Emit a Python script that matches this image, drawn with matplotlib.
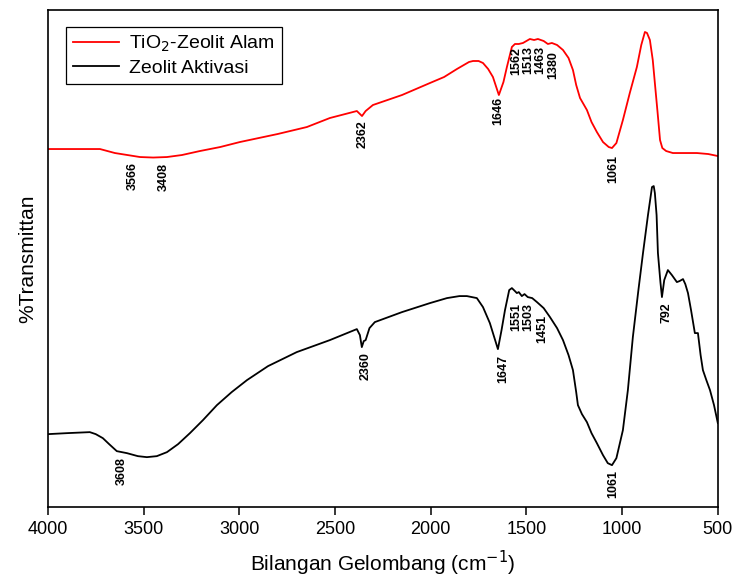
import matplotlib
matplotlib.use("Agg")
import matplotlib.pyplot as plt
import numpy as np

plt.rcParams['font.family'] = ['Liberation Sans', 'DejaVu Sans']

# ---- spectra (wavenumber, arbitrary %T units)
wn_tio2 = [4000, 3900, 3728, 3650, 3519, 3450, 3378, 3300, 3206, 3100, 2997, 2800, 2647, 2527,
           2386, 2359, 2340, 2302, 2150, 2004, 1930, 1863, 1800, 1779, 1750, 1727, 1700, 1675,
           1644, 1620, 1602, 1576, 1560, 1540, 1518, 1500, 1482, 1460, 1440, 1410, 1388, 1367,
           1340, 1309, 1280, 1257, 1240, 1220, 1184, 1160, 1132, 1100, 1070, 1053, 1030, 996,
           960, 923, 900, 881, 870, 855, 840, 829, 815, 802, 790, 770, 735, 700, 609, 550, 500]
t_tio2 = [358, 358, 358, 354, 350, 349.5, 350, 352, 356, 360, 365, 373, 380, 389,
          396, 391, 396, 402, 412, 424, 430, 438, 445, 446, 446, 444, 438, 430,
          412, 425, 440, 460, 463, 463, 464, 466, 468, 467, 468, 466, 463, 464,
          462, 457, 449, 437, 422, 409, 397, 385, 375, 365, 360, 359, 364, 387,
          414, 440, 462, 475, 474, 467, 447, 424, 395, 367, 359, 356, 354, 354, 354, 353, 351]

wn_akt = [4000, 3900, 3781, 3750, 3713, 3680, 3640, 3587, 3530, 3483, 3431, 3378, 3320, 3258,
          3190, 3117, 3040, 2960, 2850, 2700, 2527, 2386, 2370, 2360, 2350, 2340, 2320, 2292,
          2150, 2004, 1915, 1850, 1811, 1759, 1727, 1691, 1649, 1630, 1612, 1590, 1576, 1560,
          1550, 1540, 1524, 1510, 1493, 1470, 1445, 1410, 1377, 1340, 1309, 1280, 1257, 1240,
          1231, 1210, 1184, 1160, 1132, 1100, 1075, 1053, 1030, 996, 970, 944, 915, 891, 865,
          844, 835, 829, 820, 813, 800, 792, 780, 761, 740, 714, 700, 682, 670, 656, 640, 620,
          604, 590, 578, 560, 541, 520, 500]
t_akt = [73, 74, 75, 73, 69, 63, 56, 54, 51, 50, 51, 55, 63, 74,
         87, 102, 115, 127, 141, 155, 167, 178, 172, 160, 166, 167, 179, 185,
         195, 204, 209, 211, 211, 209, 200, 184, 158, 177, 197, 217, 219, 216,
         214, 215, 211, 213, 210, 209, 205, 199, 190, 179, 167, 152, 137, 115,
         102, 93, 85, 74, 64, 52, 44, 42, 49, 77, 117, 170, 217, 254, 292,
         320, 321, 314, 292, 254, 225, 210, 227, 237, 232, 225, 226, 228, 223, 214, 197, 174,
         174, 152, 137, 127, 117, 102, 84]

# ---- peak labels
lab_tio2 = ['3566', '3408', '2362', '1646', '1562', '1513', '1463', '1380', '1061']
lab_tio2_x = [3556, 3394, 2354, 1649, 1552, 1492, 1429, 1362, 1048]
lab_tio2_y = [345, 344, 387, 410, 460, 461, 461, 456, 352]

lab_akt = ['3608', '2360', '1647', '1551', '1503', '1451', '792', '1061']
lab_akt_x = [3613, 2339, 1623, 1551, 1492, 1419, 766, 1048]
lab_akt_y = [50, 155, 152, 204, 204, 192, 205, 37]

fig = plt.figure(figsize=(7.37, 5.87), dpi=100)
ax = fig.add_axes([0.065, 0.136, 0.909, 0.847])

ax.plot(wn_tio2, t_tio2, color='red', lw=1.3, label='TiO$_2$-Zeolit Alam')
ax.plot(wn_akt, t_akt, color='black', lw=1.3, label='Zeolit Aktivasi')

for txt, x, y in zip(lab_tio2, lab_tio2_x, lab_tio2_y):
    ax.text(x, y, txt, rotation=90, ha='center', va='top', fontsize=9, fontweight='bold')
for txt, x, y in zip(lab_akt, lab_akt_x, lab_akt_y):
    ax.text(x, y, txt, rotation=90, ha='center', va='top', fontsize=9, fontweight='bold')

ax.set_xlim(4000, 500)
ax.set_ylim(0, 497)
ax.set_xticks([4000, 3500, 3000, 2500, 2000, 1500, 1000, 500])
ax.set_yticks([])
ax.tick_params(axis='x', direction='out', length=6, width=1.1, labelsize=13, pad=4)
for s in ax.spines.values():
    s.set_linewidth(1.2)

ax.set_xlabel('Bilangan Gelombang (cm$^{-1}$)', fontsize=15, labelpad=8)
ax.set_ylabel('%Transmittan', fontsize=15, labelpad=8)

leg = ax.legend(loc='upper left', bbox_to_anchor=(0.027, 0.965), fontsize=14, handlelength=2.4,
                fancybox=False, edgecolor='black', framealpha=1, borderpad=0.35,
                labelspacing=0.25, handletextpad=0.5, borderaxespad=0)
leg.get_frame().set_linewidth(0.9)

fig.savefig('out.png', dpi=100)
